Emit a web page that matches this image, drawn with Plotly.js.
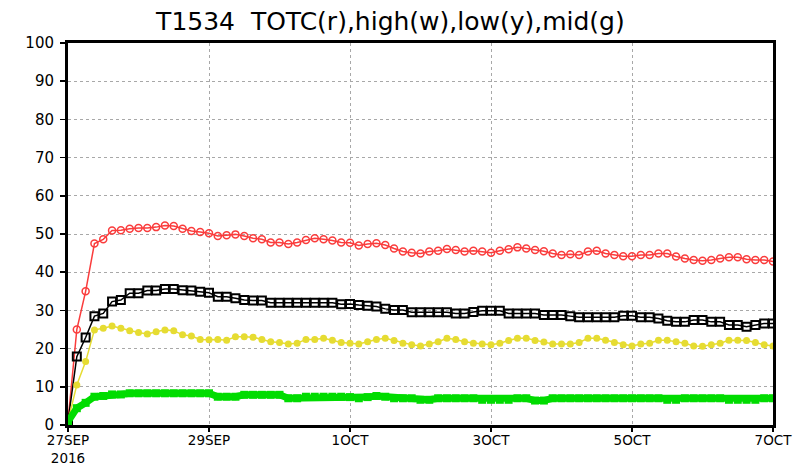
<!DOCTYPE html>
<html>
<head>
<meta charset="utf-8">
<script src="https://cdn.plot.ly/plotly-3.0.1.min.js"></script>
<style>html,body{margin:0;padding:0;background:#fff;}#chart{width:805px;height:467px;}</style>
</head>
<body>
<div id="chart"></div>
<script>
// 3-hourly series starting 2016-09-27 00Z
const startTime = "2016-09-27T00:00:00Z";
const stepHours = 3;

const totc = [1, 25, 35, 47.5, 48.6, 50.9, 51, 51.4, 51.6, 51.6, 51.8, 52.2, 52.1, 51.4, 50.8, 50.5, 50.2,
  49.5, 49.7, 49.9, 49.5, 48.9, 48.6, 47.8, 47.8, 47.4, 47.8, 48.4, 48.9, 48.6, 48.3, 47.8, 47.7,
  47.0, 47.4, 47.6, 47.1, 46.2, 45.4, 45.1, 44.9, 45.4, 45.6, 46.1, 45.8, 45.4, 45.6, 45.4, 45.1,
  45.6, 46.0, 46.5, 46.2, 45.8, 45.5, 44.9, 44.5, 44.7, 44.5, 45.4, 45.6, 44.9, 44.5, 44.2, 44.2,
  44.5, 44.5, 44.9, 44.9, 44.1, 43.6, 43.2, 43.0, 43.2, 43.6, 43.9, 43.9, 43.4, 43.2, 43.2, 42.8];

const high = [1, 17.9, 22.9, 28.5, 29.2, 32.3, 32.7, 34.5, 34.5, 35.2, 35.2, 35.6, 35.6, 35.3, 35.2, 34.9, 34.6,
  33.6, 33.6, 33.2, 32.7, 32.6, 32.6, 32.0, 32.0, 32.0, 32.0, 32.0, 32.0, 32.0, 32.0, 31.6, 31.7,
  31.4, 31.2, 31.0, 30.4, 30.1, 30.1, 29.5, 29.5, 29.5, 29.5, 29.5, 29.2, 29.2, 29.6, 29.9, 29.9,
  29.9, 29.2, 29.2, 29.2, 29.2, 28.8, 28.8, 28.8, 28.5, 28.2, 28.2, 28.2, 28.2, 28.2, 28.6, 28.6,
  28.2, 28.2, 27.9, 27.3, 27.0, 27.0, 27.5, 27.5, 27.0, 27.0, 26.2, 26.2, 25.7, 26.2, 26.6, 26.6];

const low = [1, 10.5, 16.6, 24.9, 25.3, 25.9, 25.3, 24.7, 24.2, 23.8, 24.4, 24.9, 24.7, 23.6, 23.3, 22.4, 22.3,
  22.4, 22.2, 23.1, 23.1, 23.0, 22.4, 21.8, 21.6, 21.2, 21.4, 22.4, 22.4, 22.7, 22.2, 21.6, 21.4,
  21.2, 21.8, 22.4, 22.7, 22.1, 21.4, 21.0, 20.7, 21.2, 21.8, 22.7, 22.4, 21.8, 21.4, 21.2, 21.0,
  21.4, 22.1, 22.7, 22.7, 22.1, 21.7, 21.2, 21.2, 21.2, 21.6, 22.7, 22.7, 22.2, 21.6, 21.0, 20.7,
  21.2, 21.4, 22.2, 22.2, 21.8, 21.4, 20.7, 20.6, 21.0, 21.4, 22.2, 22.2, 22.1, 21.6, 21.0, 20.7];

const mid = [0.9, 4.4, 5.8, 7.4, 7.6, 8.0, 8.0, 8.3, 8.3, 8.3, 8.3, 8.3, 8.3, 8.3, 8.3, 8.3, 8.3,
  7.4, 7.4, 7.4, 7.9, 7.9, 7.9, 7.9, 7.9, 7.0, 7.0, 7.4, 7.4, 7.4, 7.4, 7.4, 7.3,
  7.0, 7.3, 7.6, 7.4, 7.0, 7.0, 7.0, 6.6, 6.6, 7.0, 7.0, 7.0, 7.0, 7.0, 6.6, 6.6,
  6.6, 6.6, 7.0, 7.0, 6.4, 6.4, 7.0, 7.0, 7.0, 7.0, 7.0, 7.0, 7.0, 7.0, 7.0, 7.0,
  7.0, 7.0, 7.0, 6.6, 6.6, 7.0, 7.0, 7.0, 7.0, 7.0, 6.6, 6.6, 6.6, 6.6, 7.0, 7.0];

const tickDates = ["2016-09-27", "2016-09-29", "2016-10-01", "2016-10-03", "2016-10-05", "2016-10-07"];
const tickLabels = ["27SEP<br>2016", "29SEP", "1OCT", "3OCT", "5OCT", "7OCT"];
const yTicks = [0, 10, 20, 30, 40, 50, 60, 70, 80, 90, 100];

const t0 = Date.parse(startTime);
function pad(n){return (n<10?"0":"")+n;}
const times = totc.map((_, i) => {
  const d = new Date(t0 + i * stepHours * 3600 * 1000);
  return d.getUTCFullYear()+"-"+pad(d.getUTCMonth()+1)+"-"+pad(d.getUTCDate())+" "+pad(d.getUTCHours())+":00";
});

const traces = [
  {x: times, y: totc, mode: "lines+markers", line: {color: "rgb(250,60,60)", width: 1.5},
   marker: {symbol: "circle-open", size: 7, color: "rgb(250,60,60)", line: {width: 1.5}}},
  {x: times, y: high, mode: "lines+markers", line: {color: "#000", width: 1.5},
   marker: {symbol: "square-open", size: 8, color: "#000", line: {width: 2}}},
  {x: times, y: low, mode: "lines+markers", line: {color: "rgb(230,220,50)", width: 1.5},
   marker: {symbol: "circle", size: 7, color: "rgb(230,220,50)"}},
  {x: times, y: mid, mode: "lines+markers", line: {color: "rgb(0,220,0)", width: 7},
   marker: {symbol: "square", size: 8, color: "rgb(0,220,0)"}}
];

const layout = {
  width: 805, height: 467,
  margin: {l: 68, r: 32, t: 43, b: 42},
  paper_bgcolor: "#fff", plot_bgcolor: "#fff",
  showlegend: false,
  font: {family: "DejaVu Sans, sans-serif", color: "#000", size: 15},
  title: {text: "T1534  TOTC(r),high(w),low(y),mid(g)", x: 0.485, xanchor: "center", y: 0.955, yanchor: "middle",
          font: {family: "DejaVu Sans, sans-serif", size: 25, color: "#000"}},
  xaxis: {
    type: "date", range: ["2016-09-27 00:00", "2016-10-07 00:00"],
    tickmode: "array", tickvals: tickDates, ticktext: tickLabels,
    ticks: "outside", ticklen: 4, tickcolor: "#000", tickwidth: 1.5,
    ticklabelstandoff: -3,
    showgrid: true, gridcolor: "#a8a8a8", griddash: "dot", gridwidth: 1,
    showline: true, linecolor: "#000", linewidth: 3, mirror: true,
    zeroline: false, tickfont: {size: 13.5}
  },
  yaxis: {
    range: [0, 100], tickmode: "array", tickvals: yTicks,
    ticks: "outside", ticklen: 5, tickcolor: "#000", tickwidth: 1.5,
    ticklabelstandoff: 3,
    showgrid: true, gridcolor: "#a8a8a8", griddash: "dot", gridwidth: 1,
    showline: true, linecolor: "#000", linewidth: 3, mirror: true,
    zeroline: false, tickfont: {size: 15}
  }
};

Plotly.newPlot("chart", traces, layout, {displayModeBar: false, staticPlot: true});
</script>
</body>
</html>
